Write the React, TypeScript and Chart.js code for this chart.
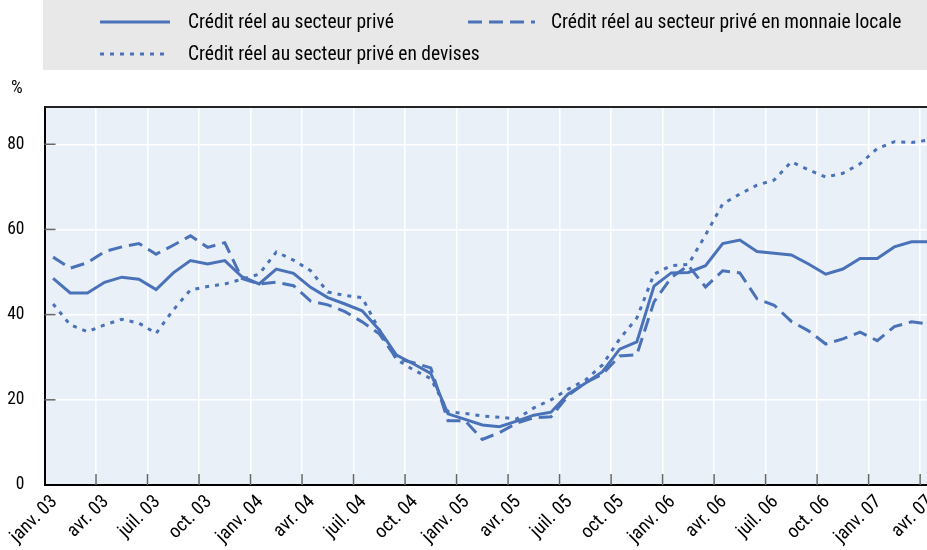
import React, { useEffect, useRef } from 'react';
import { Chart, registerables } from 'chart.js';

Chart.register(...registerables);

const categories = [
  'janv. 03','févr. 03','mars 03','avr. 03','mai 03','juin 03','juil. 03','août 03','sept. 03','oct. 03','nov. 03','déc. 03',
  'janv. 04','févr. 04','mars 04','avr. 04','mai 04','juin 04','juil. 04','août 04','sept. 04','oct. 04','nov. 04','déc. 04',
  'janv. 05','févr. 05','mars 05','avr. 05','mai 05','juin 05','juil. 05','août 05','sept. 05','oct. 05','nov. 05','déc. 05',
  'janv. 06','févr. 06','mars 06','avr. 06','mai 06','juin 06','juil. 06','août 06','sept. 06','oct. 06','nov. 06','déc. 06',
  'janv. 07','févr. 07','mars 07','avr. 07',
];

const tickLabels = [
  'janv. 03','avr. 03','juil. 03','oct. 03','janv. 04','avr. 04','juil. 04','oct. 04','janv. 05',
  'avr. 05','juil. 05','oct. 05','janv. 06','avr. 06','juil. 06','oct. 06','janv. 07','avr. 07',
];

const seriesNames = [
  'Crédit réel au secteur privé',
  'Crédit réel au secteur privé en monnaie locale',
  'Crédit réel au secteur privé en devises',
];

const creditTotal = [
  48.5, 45.1, 45.1, 47.6, 48.8, 48.3, 45.9, 49.8, 52.7, 51.9, 52.7, 48.9,
  47.2, 50.7, 49.7, 46.4, 44.0, 42.5, 40.9, 36.4, 30.5, 28.4, 26.2, 16.7,
  15.4, 14.1, 13.7, 15.0, 16.4, 17.1, 21.4, 23.9, 26.6, 31.9, 33.6, 46.7,
  49.8, 49.9, 51.5, 56.7, 57.5, 54.8, 54.4, 54.0, 51.9, 49.5, 50.7, 53.2,
  53.2, 55.9, 57.1, 57.1,
];

const creditLocal = [
  53.5, 50.9, 52.2, 54.8, 55.9, 56.7, 54.2, 56.3, 58.5, 55.8, 56.9, 48.5,
  47.2, 47.6, 46.8, 43.2, 42.3, 40.7, 38.3, 35.5, 29.7, 28.7, 27.5, 15.1,
  15.1, 10.7, 12.3, 14.5, 15.8, 16.0, 21.0, 24.0, 26.0, 30.3, 30.6, 43.0,
  48.7, 51.5, 46.5, 50.3, 49.8, 43.7, 42.2, 38.4, 36.2, 33.1, 34.3, 35.9,
  33.9, 37.2, 38.3, 37.8,
];

const creditForeign = [
  42.5, 37.6, 36.0, 37.6, 38.9, 38.0, 35.6, 41.1, 45.8, 46.6, 47.2, 48.3,
  49.5, 54.7, 52.8, 50.3, 45.3, 44.5, 44.0, 36.4, 29.5, 27.0, 25.0, 17.2,
  16.8, 16.2, 15.9, 15.5, 18.1, 20.0, 22.5, 24.6, 28.2, 34.3, 39.2, 49.5,
  51.5, 51.8, 58.7, 66.0, 68.3, 70.4, 71.6, 75.9, 74.0, 72.3, 73.2, 75.4,
  79.0, 80.6, 80.4, 81.0,
];

const yTicks = [0, 20, 40, 60, 80];

const BLUE = '#4a72b8';
const FONT_FAMILY = "'Roboto Condensed', 'Liberation Sans', sans-serif";
const X_MAX = 51.4;
const Y_MAX = 88.75;

const toPoints = (vals: number[]) => vals.map((v, i) => ({ x: i + 0.5, y: v }));

const legendPos = [
  { x1: 100, x2: 170, y: 22, tx: 188 },
  { x1: 468, x2: 535, y: 22, tx: 551 },
  { x1: 100, x2: 170, y: 54, tx: 188 },
];

const decorPlugin = {
  id: 'decor',
  beforeDraw(chart: any) {
    const { ctx, chartArea } = chart;
    const { left, top, right, bottom } = chartArea;
    ctx.save();
    ctx.fillStyle = '#e8e8e8';
    ctx.fillRect(43, 0, chart.width - 43, 70);
    ctx.fillStyle = '#eaf0f8';
    ctx.fillRect(left, top, right - left, bottom - top);
    ctx.restore();
  },
  afterDraw(chart: any) {
    const { ctx, chartArea, scales } = chart;
    const { left, top, right, bottom } = chartArea;
    ctx.save();
    ctx.strokeStyle = '#222';
    ctx.lineWidth = 2;
    ctx.beginPath();
    ctx.moveTo(left, top);
    ctx.lineTo(right, top);
    ctx.stroke();
    ctx.strokeStyle = '#666';
    ctx.lineWidth = 1.5;
    scales.x.ticks.forEach((t: any) => {
      if (t.value === 0) return;
      const px = scales.x.getPixelForValue(t.value);
      ctx.beginPath();
      ctx.moveTo(px, bottom);
      ctx.lineTo(px, bottom - 11);
      ctx.stroke();
    });
    scales.y.ticks.forEach((t: any) => {
      if (t.value === 0) return;
      const py = scales.y.getPixelForValue(t.value);
      ctx.beginPath();
      ctx.moveTo(left, py);
      ctx.lineTo(left + 11, py);
      ctx.stroke();
    });
    ctx.font = `19.5px ${FONT_FAMILY}`;
    ctx.textBaseline = 'middle';
    ctx.textAlign = 'left';
    chart.data.datasets.forEach((ds: any, i: number) => {
      const p = legendPos[i];
      ctx.strokeStyle = ds.borderColor;
      ctx.lineWidth = 3;
      ctx.setLineDash(ds.borderDash || []);
      ctx.beginPath();
      ctx.moveTo(p.x1, p.y);
      ctx.lineTo(p.x2, p.y);
      ctx.stroke();
      ctx.setLineDash([]);
      ctx.fillStyle = '#000';
      ctx.fillText(ds.label, p.tx, p.y + 1);
    });
    ctx.font = `18.5px ${FONT_FAMILY}`;
    ctx.fillText('%', 11, 88);
    ctx.restore();
  },
};

export default function App() {
  const ref = useRef<HTMLCanvasElement | null>(null);
  useEffect(() => {
    document.body.style.margin = '0';
    const canvas = ref.current;
    if (!canvas) return;
    const yFont = { family: FONT_FAMILY, size: 17.5 };
    const xFont = { family: FONT_FAMILY, size: 19 };
    const chart = new Chart(canvas, {
      type: 'line',
      data: {
        labels: categories,
        datasets: [
          { label: seriesNames[0], data: toPoints(creditTotal), borderColor: BLUE, borderWidth: 3, pointRadius: 0, borderDash: [], tension: 0, fill: false },
          { label: seriesNames[1], data: toPoints(creditLocal), borderColor: BLUE, borderWidth: 3, pointRadius: 0, borderDash: [14, 7], tension: 0, fill: false },
          { label: seriesNames[2], data: toPoints(creditForeign), borderColor: BLUE, borderWidth: 3, pointRadius: 0, borderDash: [4, 6], tension: 0, fill: false },
        ],
      } as any,
      options: {
        animation: false,
        responsive: false,
        maintainAspectRatio: false,
        layout: { padding: { top: 107, left: 0, right: 0, bottom: 0 } },
        plugins: { legend: { display: false }, tooltip: { enabled: false }, title: { display: false } },
        scales: {
          x: {
            type: 'linear',
            min: 0,
            max: X_MAX,
            afterBuildTicks: (s: any) => {
              s.ticks = tickLabels.map((_, i) => ({ value: i * 3 }));
            },
            afterFit: (s: any) => {
              s.height = 65;
              s.paddingLeft = 0;
              s.paddingRight = 0;
            },
            ticks: {
              autoSkip: false,
              maxRotation: 45,
              minRotation: 45,
              labelOffset: 10,
              padding: 6,
              color: '#000',
              font: xFont,
              callback: (_v: any, i: number) => tickLabels[i],
            },
            grid: { color: '#ffffff', lineWidth: 1.5, drawTicks: false },
            border: { color: '#000', width: 2 },
          },
          y: {
            min: 0,
            max: Y_MAX,
            afterBuildTicks: (s: any) => {
              s.ticks = yTicks.map((v) => ({ value: v }));
            },
            afterFit: (s: any) => {
              s.width = 44.5;
              s.paddingTop = 0;
              s.paddingBottom = 0;
            },
            ticks: { padding: 20, color: '#000', font: yFont },
            grid: { color: '#ffffff', lineWidth: 1.5, drawTicks: false },
            border: { color: '#000', width: 2 },
          },
        },
      } as any,
      plugins: [decorPlugin],
    });
    return () => chart.destroy();
  }, []);
  return <canvas ref={ref} width={927} height={550} style={{ display: 'block' }} />;
}
